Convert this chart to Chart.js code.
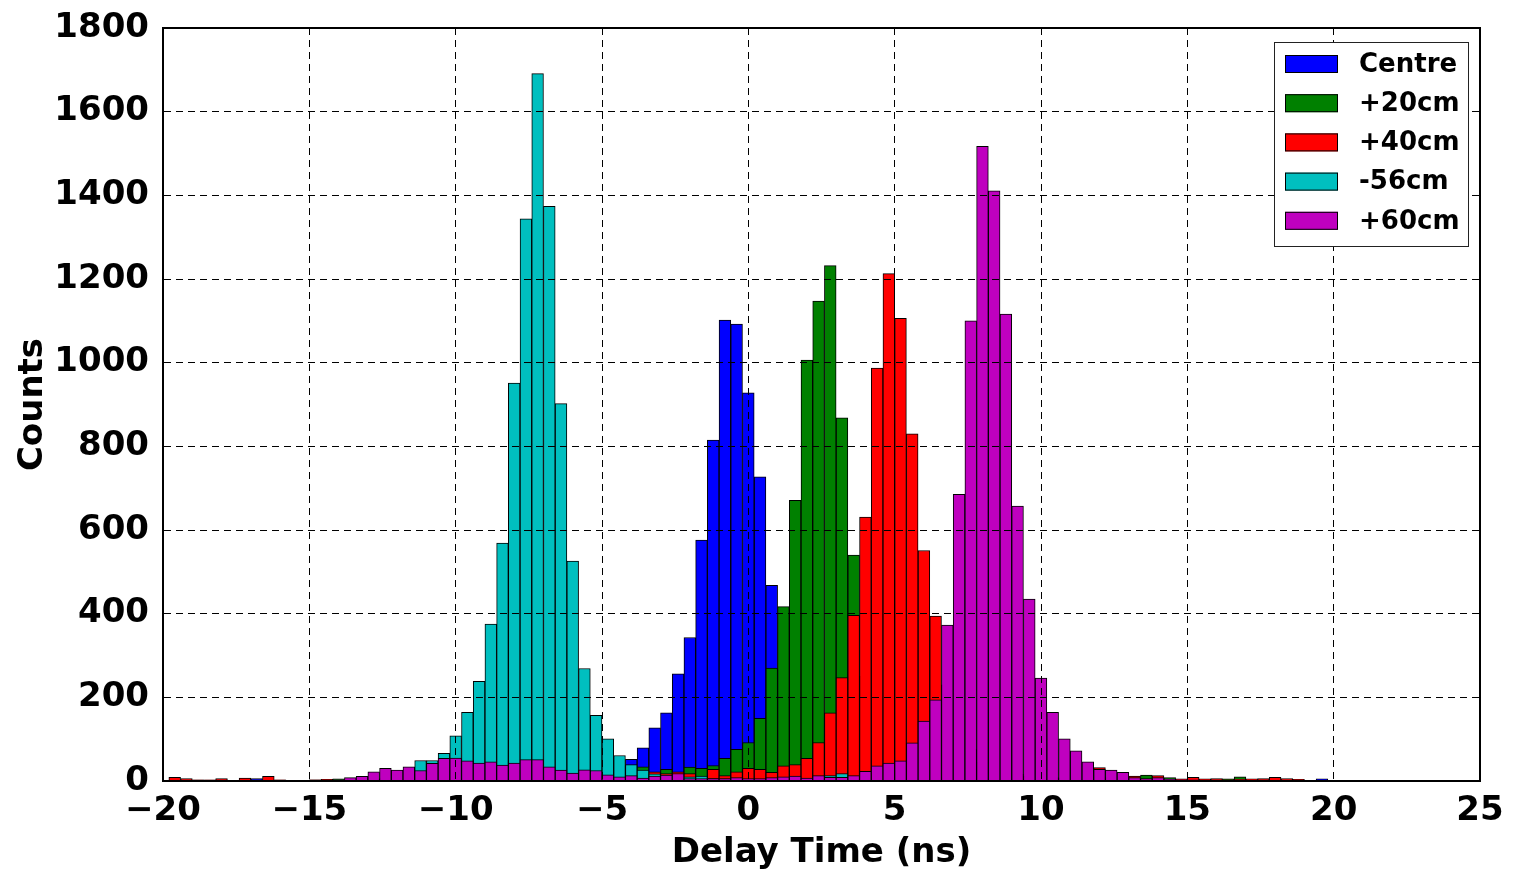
<!DOCTYPE html>
<html>
<head>
<meta charset="utf-8">
<title>Delay time histogram</title>
<script src="https://cdn.jsdelivr.net/npm/chart.js@4.4.1/dist/chart.umd.min.js"></script>
<style>
  html, body { margin: 0; padding: 0; background: #fff; }
</style>
</head>
<body>
<canvas id="hist" width="1513" height="871"></canvas>
<script>
// bin centres (ns), 0.4 ns wide bins
const binCentres = [
  -19.6, -19.2, -18.8, -18.4, -18.0, -17.6, -17.2, -16.8, -16.4, -16.0,
  -15.6, -15.2, -14.8, -14.4, -14.0, -13.6, -13.2, -12.8, -12.4, -12.0,
  -11.6, -11.2, -10.8, -10.4, -10.0, -9.6, -9.2, -8.8, -8.4, -8.0,
  -7.6, -7.2, -6.8, -6.4, -6.0, -5.6, -5.2, -4.8, -4.4, -4.0,
  -3.6, -3.2, -2.8, -2.4, -2.0, -1.6, -1.2, -0.8, -0.4, 0.0,
  0.4, 0.8, 1.2, 1.6, 2.0, 2.4, 2.8, 3.2, 3.6, 4.0,
  4.4, 4.8, 5.2, 5.6, 6.0, 6.4, 6.8, 7.2, 7.6, 8.0,
  8.4, 8.8, 9.2, 9.6, 10.0, 10.4, 10.8, 11.2, 11.6, 12.0,
  12.4, 12.8, 13.2, 13.6, 14.0, 14.4, 14.8, 15.2, 15.6, 16.0,
  16.4, 16.8, 17.2, 17.6, 18.0, 18.4, 18.8, 19.2, 19.6, 20.0
];

const centreCounts = [
  2, 1, 2, 1, 3, 1, 2, 6, 2, 1,
  1, 1, 2, 1, 1, 1, 3, 2, 3, 2,
  4, 3, 3, 4, 5, 4, 6, 5, 7, 6,
  8, 9, 8, 11, 13, 15, 20, 26, 36, 52,
  79, 127, 163, 256, 343, 576, 815, 1102, 1092, 928,
  727, 468, 265, 150, 85, 50, 30, 20, 14, 10,
  8, 6, 5, 4, 4, 3, 3, 2, 2, 2,
  1, 2, 1, 1, 2, 1, 1, 1, 2, 1,
  1, 2, 1, 2, 1, 1, 2, 1, 1, 2,
  1, 1, 2, 1, 1, 1, 2, 1, 5, 1
];

const plus20Counts = [
  1, 2, 1, 1, 2, 1, 3, 2, 1, 2,
  1, 1, 2, 3, 5, 1, 2, 1, 2, 2,
  3, 3, 4, 3, 5, 4, 5, 4, 6, 5,
  6, 7, 6, 7, 8, 8, 9, 10, 12, 18,
  34, 15, 28, 15, 33, 30, 37, 54, 76, 92,
  150, 270, 417, 671, 1006, 1147, 1232, 868, 540, 250,
  110, 55, 30, 20, 14, 10, 8, 6, 5, 4,
  4, 3, 3, 2, 3, 2, 2, 3, 2, 2,
  3, 2, 4, 14, 6, 8, 2, 3, 2, 3,
  5, 10, 2, 3, 2, 1, 2, 1, 1, 1
];

const plus40Counts = [
  9, 6, 3, 3, 6, 1, 7, 2, 11, 3,
  1, 1, 3, 4, 2, 2, 3, 2, 4, 3,
  5, 4, 6, 5, 7, 6, 8, 5, 7, 6,
  8, 7, 6, 5, 7, 6, 5, 8, 6, 9,
  10, 22, 18, 22, 18, 10, 28, 13, 22, 30,
  28, 21, 36, 39, 54, 92, 163, 247, 396, 631,
  987, 1213, 1106, 830, 551, 394, 230, 130, 75, 45,
  30, 22, 16, 12, 10, 8, 7, 7, 6, 32,
  8, 6, 12, 5, 13, 3, 5, 9, 5, 6,
  3, 4, 5, 6, 9, 6, 4, 1, 2, 1
];

const minus56Counts = [
  0, 0, 0, 0, 0, 0, 0, 0, 0, 0,
  0, 1, 0, 1, 1, 1, 2, 4, 6, 10,
  20, 49, 49, 66, 108, 164, 238, 375, 569, 951,
  1344, 1691, 1374, 902, 526, 269, 157, 101, 61, 39,
  26, 17, 12, 10, 10, 12, 6, 5, 4, 4,
  3, 3, 3, 2, 2, 3, 13, 18, 4, 2,
  1, 1, 0, 1, 0, 0, 1, 0, 0, 0,
  0, 0, 0, 0, 0, 0, 0, 0, 0, 0,
  0, 0, 0, 0, 0, 0, 0, 0, 0, 0,
  0, 0, 0, 0, 0, 0, 0, 0, 0, 0
];

const plus60Counts = [
  0, 1, 0, 1, 0, 0, 1, 0, 1, 1,
  0, 1, 2, 2, 3, 8, 11, 22, 30, 26,
  34, 25, 42, 54, 55, 48, 43, 46, 38, 43,
  51, 51, 34, 26, 19, 27, 25, 15, 10, 13,
  7, 12, 14, 18, 6, 6, 6, 6, 8, 6,
  6, 8, 10, 12, 7, 13, 9, 9, 13, 23,
  36, 43, 48, 91, 143, 194, 373, 685, 1100, 1517,
  1411, 1116, 657, 435, 246, 164, 101, 72, 46, 28,
  26, 21, 8, 6, 8, 4, 3, 3, 2, 2,
  2, 1, 1, 2, 1, 1, 1, 1, 0, 1
];

const seriesLabels = ['Centre', '+20cm', '+40cm', '-56cm', '+60cm'];
const seriesColours = ['#0000ff', '#008000', '#ff0000', '#00bfbf', '#bf00bf'];
const seriesCounts = [centreCounts, plus20Counts, plus40Counts, minus56Counts, plus60Counts];

const xRange = [-20, 25];
const yRange = [0, 1800];

const FONT = '"DejaVu Sans", "Liberation Sans", sans-serif';

function toPoints(counts) {
    return counts.map((c, i) => ({ x: binCentres[i], y: c }));
}

// later series sit on top, like an overlaid matplotlib hist
const datasets = seriesLabels.map((label, i) => ({
    label: label,
    data: toPoints(seriesCounts[i]),
    backgroundColor: seriesColours[i],
    borderColor: '#000',
    borderWidth: 1,
    order: seriesLabels.length - i,
    grouped: false,
    barPercentage: 1,
    categoryPercentage: 1
}));

// closes the frame on top and right
const frameBox = {
    id: 'frameBox',
    afterDraw(chart) {
        const { ctx, chartArea: a } = chart;
        ctx.save();
        ctx.strokeStyle = '#000';
        ctx.lineWidth = 2;
        ctx.strokeRect(a.left, a.top, a.right - a.left, a.bottom - a.top);
        ctx.restore();
    }
};

// legend box inside the upper right corner
const boxLegend = {
    id: 'boxLegend',
    afterDraw(chart) {
        const { ctx, chartArea: a } = chart;
        const w = 194, h = 204;
        const x0 = a.right - 12 - w;
        const y0 = a.top + 14;
        ctx.save();
        ctx.fillStyle = '#fff';
        ctx.fillRect(x0, y0, w, h);
        ctx.strokeStyle = '#222';
        ctx.lineWidth = 1;
        ctx.strokeRect(x0 + 0.5, y0 + 0.5, w, h);
        ctx.font = 'bold 26px ' + FONT;
        ctx.textBaseline = 'middle';
        chart.data.datasets.forEach((ds, i) => {
            const sy = y0 + 13 + i * 39.2;
            ctx.fillStyle = ds.backgroundColor;
            ctx.fillRect(x0 + 11, sy, 53, 18);
            ctx.strokeStyle = '#000';
            ctx.strokeRect(x0 + 11.5, sy + 0.5, 52, 17);
            ctx.fillStyle = '#000';
            ctx.fillText(ds.label, x0 + 85, sy + 10);
        });
        ctx.restore();
    }
};

new Chart(document.getElementById('hist'), {
    type: 'bar',
    data: { datasets: datasets },
    plugins: [frameBox, boxLegend],
    options: {
        responsive: false,
        animation: false,
        layout: { padding: { top: 28, right: 33, left: 0, bottom: 0 } },
        plugins: {
            legend: { display: false },
            tooltip: { enabled: false }
        },
        scales: {
            x: {
                type: 'linear',
                min: xRange[0],
                max: xRange[1],
                offset: false,
                afterFit: (s) => { s.height = 90; s.paddingLeft = 0; s.paddingRight = 0; },
                ticks: {
                    stepSize: 5,
                    padding: 10,
                    color: '#000',
                    font: { family: FONT, size: 34, weight: 'bold' },
                    maxRotation: 0,
                    autoSkip: false,
                    callback: (v) => (v < 0 ? '\u2212' + Math.abs(v) : String(v))
                },
                grid: { offset: false, color: '#000', lineWidth: 1, drawTicks: false, z: 1 },
                border: { display: true, color: '#000', width: 2, dash: [7, 5], z: 2 },
                title: {
                    display: true,
                    text: 'Delay Time (ns)',
                    color: '#000',
                    font: { family: FONT, size: 34, weight: 'bold' },
                    padding: { top: 0, bottom: -3 }
                }
            },
            y: {
                min: yRange[0],
                max: yRange[1],
                afterFit: (s) => { s.width = 163; s.paddingTop = 0; s.paddingBottom = 0; },
                ticks: {
                    stepSize: 200,
                    padding: 14,
                    color: '#000',
                    font: { family: FONT, size: 34, weight: 'bold' },
                    callback: (v) => String(v)
                },
                grid: { color: '#000', lineWidth: 1, drawTicks: false, z: 1 },
                border: { display: true, color: '#000', width: 2, dash: [7, 5], z: 2 },
                title: {
                    display: true,
                    text: 'Counts',
                    color: '#000',
                    font: { family: FONT, size: 34, weight: 'bold' },
                    padding: { top: 13, bottom: 0 }
                }
            }
        }
    }
});
</script>
</body>
</html>
